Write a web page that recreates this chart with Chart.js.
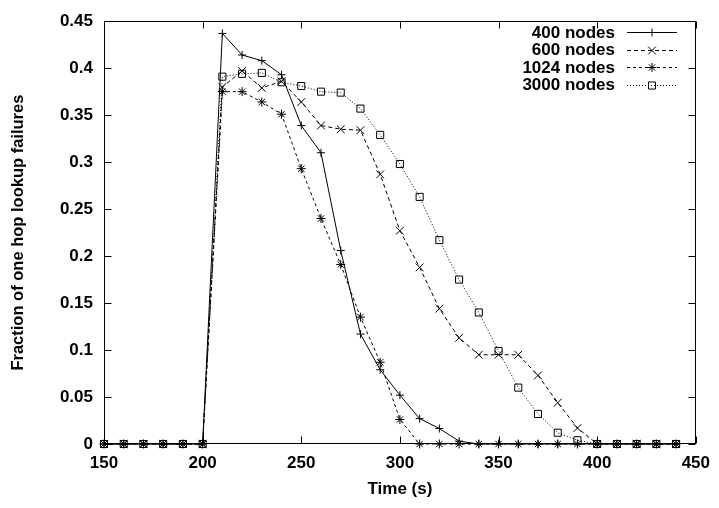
<!DOCTYPE html>
<html>
<head>
<meta charset="utf-8">
<script src="https://cdn.jsdelivr.net/npm/chart.js@4/dist/chart.umd.min.js"></script>
<style>
  html, body { margin: 0; padding: 0; background: #fff; }
  #wrap { width: 719px; height: 508px; }
</style>
</head>
<body>
<div id="wrap"><canvas id="c" width="719" height="508"></canvas></div>
<script>
// ---- data ----
const times = [150,160,170,180,190,200,210,220,230,240,250,260,270,280,290,300,310,320,330,340,350,360,370,380,390,400,410,420,430,440];
const nodes400  = [0,0,0,0,0,0,0.437,0.414,0.408,0.393,0.339,0.310,0.206,0.117,0.079,0.052,0.027,0.0165,0.003,0,0,0,0,0,0,0,0,0,0,0];
const nodes600  = [0,0,0,0,0,0,0.380,0.397,0.379,0.386,0.364,0.339,0.335,0.334,0.287,0.227,0.188,0.144,0.113,0.095,0.095,0.095,0.073,0.044,0.017,0,0,0,0,0];
const nodes1024 = [0,0,0,0,0,0,0.375,0.375,0.364,0.351,0.293,0.240,0.191,0.135,0.087,0.026,0,0,0,0,0,0,0,0,0,0,0,0,0,0];
const nodes3000 = [0,0,0,0,0,0,0.391,0.394,0.395,0.385,0.381,0.375,0.374,0.357,0.329,0.298,0.263,0.217,0.175,0.140,0.099,0.060,0.032,0.012,0.004,0,0,0,0,0];
const seriesNames = ['400 nodes','600 nodes','1024 nodes','3000 nodes'];
const xTicks = [150,200,250,300,350,400,450];
const yTicks = [0,0.05,0.1,0.15,0.2,0.25,0.3,0.35,0.4,0.45];

const FONT = "'Liberation Sans', Arial, sans-serif";
const pts = arr => arr.map((v,i)=>({x: times[i], y: v}));

const styles = [
  {pointStyle:'cross',    pointRadius:4,   dash:[]},
  {pointStyle:'crossRot', pointRadius:5.5, dash:[4,3]},
  {pointStyle:'star',     pointRadius:4.5, dash:[3,3]},
  {pointStyle:'rect',     pointRadius:5,   dash:[1,2]}
];
const seriesData = [nodes400, nodes600, nodes1024, nodes3000];

const datasets = seriesData.map((d,i)=>({
  label: seriesNames[i],
  data: pts(d),
  borderColor: '#000',
  backgroundColor: 'rgba(0,0,0,0)',
  borderWidth: 1,
  borderDash: styles[i].dash,
  pointStyle: styles[i].pointStyle,
  pointRadius: styles[i].pointRadius,
  pointBorderColor: '#000',
  pointBackgroundColor: 'rgba(0,0,0,0)',
  pointBorderWidth: 1,
  tension: 0,
  clip: false
}));

const framePlugin = {
  id: 'frame',
  afterDatasetsDraw(chart) {
    const {ctx, chartArea: a, scales: {x, y}} = chart;
    ctx.save();
    ctx.strokeStyle = '#000';
    ctx.lineWidth = 1;
    ctx.setLineDash([]);
    const L = Math.round(a.left)+0.5, R = Math.round(a.right)-0.5;
    const T = Math.round(a.top)+0.5, B = Math.round(a.bottom)-0.5;
    ctx.strokeRect(L, T, R-L, B-T);
    const tl = 7;
    ctx.beginPath();
    xTicks.forEach(v=>{
      const px = Math.round(x.getPixelForValue(v))+0.5;
      ctx.moveTo(px, B); ctx.lineTo(px, B-tl);
      ctx.moveTo(px, T); ctx.lineTo(px, T+tl);
    });
    yTicks.forEach(v=>{
      const py = Math.round(y.getPixelForValue(v))+0.5;
      ctx.moveTo(L, py); ctx.lineTo(L+tl, py);
      ctx.moveTo(R, py); ctx.lineTo(R-tl, py);
    });
    ctx.stroke();

    // legend (inside plot, top right, text then sample)
    const textRight = 615, lineL = 627, lineR = 677, markX = 652;
    const rowY = [32, 49.5, 67, 84.5];
    ctx.font = 'bold 17px ' + FONT;
    ctx.textAlign = 'right';
    ctx.textBaseline = 'middle';
    ctx.fillStyle = '#000';
    chart.data.datasets.forEach((ds,i)=>{
      const yy = rowY[i];
      ctx.setLineDash([]);
      ctx.fillText(ds.label, textRight, yy+1);
      ctx.setLineDash(ds.borderDash);
      ctx.beginPath();
      ctx.moveTo(lineL, Math.round(yy)+0.5);
      ctx.lineTo(lineR, Math.round(yy)+0.5);
      ctx.stroke();
      ctx.setLineDash([]);
      ctx.fillStyle = 'rgba(0,0,0,0)';
      Chart.helpers.drawPoint(ctx, {pointStyle: ds.pointStyle, rotation: 0, radius: ds.pointRadius, borderWidth: 1}, markX, Math.round(yy)+0.5);
      ctx.fillStyle = '#000';
    });
    ctx.restore();
  }
};

new Chart(document.getElementById('c'), {
  type: 'line',
  data: { datasets },
  options: {
    responsive: false,
    animation: false,
    devicePixelRatio: 1,
    layout: { padding: { left: 0, right: 21, top: 14, bottom: 0 } },
    plugins: { legend: { display: false }, tooltip: { enabled: false } },
    scales: {
      x: {
        type: 'linear', min: 150, max: 450,
        afterFit(s) { s.height = 64; },
        afterBuildTicks(s) { s.ticks = xTicks.map(v=>({value:v})); },
        grid: { display: false, drawTicks: false },
        border: { display: false },
        ticks: { color: '#000', font: { family: FONT, size: 17, weight: 'bold' }, padding: 9, maxRotation: 0 },
        title: { display: true, text: 'Time (s)', color: '#000', font: { family: FONT, size: 17, weight: 'bold' }, padding: { top: 4, bottom: 8 } }
      },
      y: {
        type: 'linear', min: 0, max: 0.45,
        afterFit(s) { s.width = 104; },
        afterBuildTicks(s) { s.ticks = yTicks.map(v=>({value:v})); },
        grid: { display: false, drawTicks: false },
        border: { display: false },
        ticks: { color: '#000', font: { family: FONT, size: 17, weight: 'bold' }, padding: 11,
                 callback: v => String(Math.round(v*100)/100) },
        title: { display: true, text: 'Fraction of one hop lookup failures', color: '#000', font: { family: FONT, size: 16.5, weight: 'bold' }, padding: { top: 9, bottom: 4 } }
      }
    }
  },
  plugins: [framePlugin]
});
</script>
</body>
</html>
